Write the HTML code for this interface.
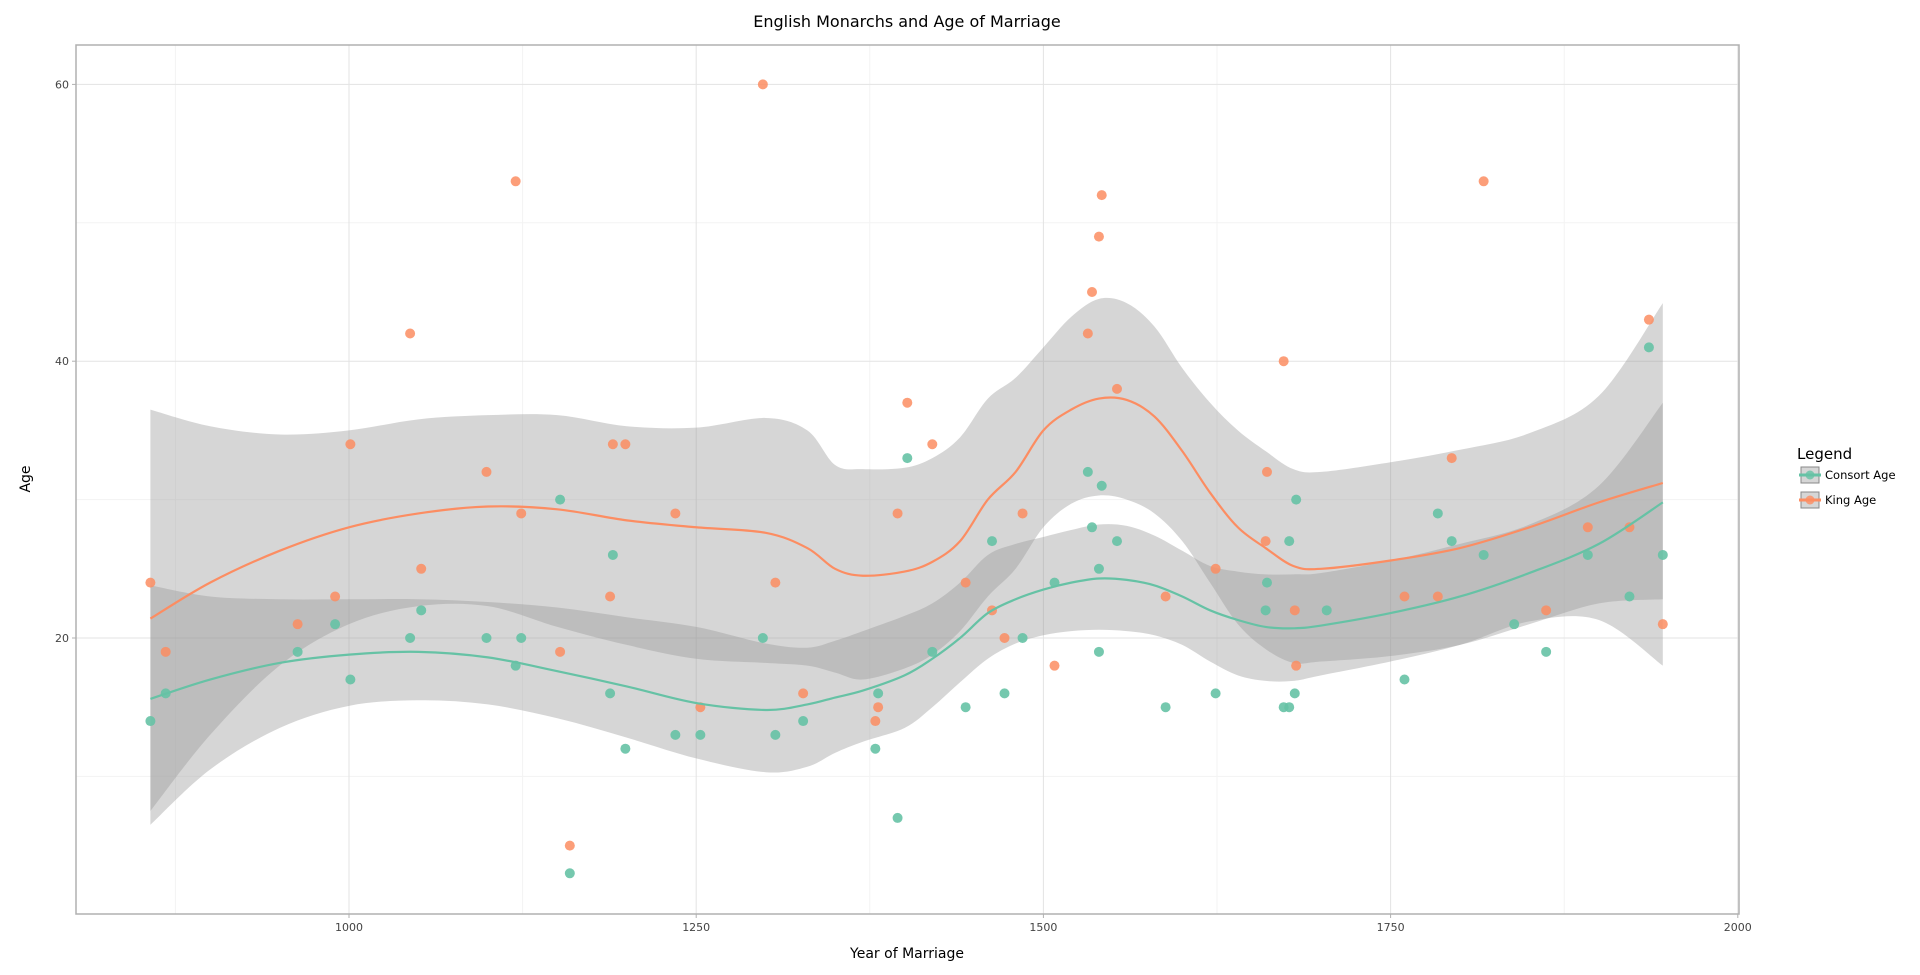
<!DOCTYPE html>
<html><head><meta charset="utf-8"><style>
body{margin:0;background:#fff;font-family:"Liberation Sans","DejaVu Sans",sans-serif}
svg{display:block}
</style></head><body>
<svg id="chart" width="1920" height="975" xmlns="http://www.w3.org/2000/svg" font-family="DejaVu Sans, Liberation Sans, sans-serif"></svg>
<script>
const kingYears=[857,868,963,990,1001,1044,1052,1099,1120,1124,1152,1159,1188,1190,1199,1235,1253,1298,1307,1327,1379,1381,1395,1402,1420,1444,1463,1472,1485,1508,1532,1535,1540,1542,1553,1588,1624,1660,1661,1673,1681,1682,1760,1784,1794,1817,1862,1892,1922,1936,1946];
const kingAges=[24,19,21,23,34,42,25,32,53,29,19,5,23,34,34,29,15,60,24,16,14,15,29,37,34,24,22,20,29,18,42,45,49,52,38,23,25,27,32,40,22,18,23,23,33,53,22,28,28,43,21];
const consortYears=[857,868,963,990,1001,1044,1052,1099,1120,1124,1152,1159,1188,1190,1199,1235,1253,1298,1307,1327,1379,1381,1395,1402,1420,1444,1463,1472,1485,1508,1532,1535,1540,1540,1542,1553,1588,1624,1660,1661,1673,1677,1677,1681,1682,1704,1760,1784,1794,1817,1839,1862,1892,1922,1936,1946];
const consortAges=[14,16,19,21,17,20,22,20,18,20,30,3,16,26,12,13,13,20,13,14,12,16,7,33,19,15,27,16,20,24,32,28,25,19,31,27,15,16,22,24,15,15,27,16,30,22,17,29,27,26,21,19,26,23,41,26];
const smoothYears=[857,900,950,1000,1050,1100,1150,1200,1250,1300,1330,1350,1370,1400,1420,1440,1460,1480,1500,1520,1540,1560,1580,1600,1620,1640,1660,1680,1700,1750,1800,1850,1900,1946];
const kingFit=[21.4,24,26.3,28,29,29.5,29.3,28.5,28,27.6,26.5,25,24.5,24.8,25.5,27,30,32,35,36.5,37.3,37.2,36,33.5,30.5,28,26.5,25.2,25,25.6,26.5,28,29.8,31.2];
const kingHi=[36.5,35.3,34.7,35,35.8,36.1,36.1,35.3,35.2,35.9,35,32.5,32.2,32.3,33,34.5,37.3,38.8,41,43.2,44.5,44.2,42.5,39.5,37,35,33.5,32.2,32,32.7,33.6,34.8,37.5,44.2];
const kingLo=[7.5,13,18,21,22.3,22.3,20.8,19.5,18.5,18.2,18,17.5,17,17.8,18.8,20.5,23,25,28,29.7,30.3,30,29,27,24,21,19.2,18.2,18.3,18.7,19.5,21,22.5,22.8];
const consFit=[15.6,17,18.2,18.8,19,18.6,17.6,16.5,15.3,14.8,15.2,15.7,16.2,17.3,18.5,20,21.8,22.8,23.5,24,24.3,24.2,23.8,23,22,21.3,20.8,20.7,20.9,21.8,23,24.7,26.8,29.8];
const consHi=[23.8,23,22.8,22.8,22.8,22.6,22.2,21.5,20.8,19.6,19.3,19.8,20.5,21.6,22.5,24,26,26.8,27.3,27.8,28.2,28.1,27.4,26.3,25.2,24.8,24.6,24.6,24.7,25.6,26.8,28.2,31,37];
const consLo=[6.5,10.5,13.5,15.1,15.5,15.2,14.2,12.8,11.3,10.3,10.7,11.7,12.5,13.5,15,16.8,18.5,19.6,20.2,20.5,20.6,20.5,20.2,19.5,18.3,17.3,16.9,16.9,17.3,18.3,19.5,21.2,21.3,18];
const xTicks=[1000,1250,1500,1750,2000];
const xMinor=[875,1125,1375,1625,1875];
const yTicks=[20,40,60];
const yMinor=[10,30,50];

const NS="http://www.w3.org/2000/svg";
const svg=document.getElementById('chart');
const L=76,T=45,R=1739,B=914;
const X=y=>349+(y-1000)*1.3888;
const Y=a=>638-(a-20)*13.84;
function el(tag,attrs,parent){const e=document.createElementNS(NS,tag);for(const k in attrs)e.setAttribute(k,attrs[k]);(parent||svg).appendChild(e);return e;}
function txt(s,attrs){const e=el('text',attrs);e.textContent=s;return e;}

xMinor.forEach(v=>{const e=el('line',{x1:X(v),x2:X(v),y1:T,y2:B,stroke:'#f3f3f3','stroke-width':1});

});
yMinor.forEach(v=>{const e=el('line',{x1:L,x2:R,y1:Y(v),y2:Y(v),stroke:'#f3f3f3','stroke-width':1});

});
xTicks.forEach(v=>{const e=el('line',{x1:X(v),x2:X(v),y1:T,y2:B,stroke:'#e3e3e3','stroke-width':1});


const t=el('line',{x1:X(v),x2:X(v),y1:B,y2:B+4,stroke:'#b0b0b0'});


const l=txt(v,{x:X(v),y:B+17,'text-anchor':'middle','font-size':11,fill:'#444'});

});
yTicks.forEach(v=>{const e=el('line',{x1:L,x2:R,y1:Y(v),y2:Y(v),stroke:'#e3e3e3','stroke-width':1});


const t=el('line',{x1:L-4,x2:L,y1:Y(v),y2:Y(v),stroke:'#b0b0b0'});


const l=txt(v,{x:L-7,y:Y(v)+4,'text-anchor':'end','font-size':11,fill:'#444'});

});

function smoothPath(xs,ys){
  const p=xs.map((x,i)=>[X(x),Y(ys[i])]);
  let d='M'+p[0][0]+','+p[0][1];
  for(let i=0;i<p.length-1;i++){
    const p0=p[Math.max(0,i-1)],p1=p[i],p2=p[i+1],p3=p[Math.min(p.length-1,i+2)];
    const c1=[p1[0]+(p2[0]-p0[0])/6,p1[1]+(p2[1]-p0[1])/6];
    const c2=[p2[0]-(p3[0]-p1[0])/6,p2[1]-(p3[1]-p1[1])/6];
    d+=' C'+c1[0]+','+c1[1]+' '+c2[0]+','+c2[1]+' '+p2[0]+','+p2[1];
  }
  return d;
}
function band(lo,hi,name){
  const up=smoothPath(smoothYears,hi);
  const rx=smoothYears.slice().reverse(),rl=lo.slice().reverse();
  const dn=smoothPath(rx,rl).replace(/^M/,'L');
  const e=el('path',{d:up+' '+dn+' Z',fill:'#999999','fill-opacity':0.4,stroke:'none'});
  
  
}
band(consLo,consHi,'consort-confidence-band');
band(kingLo,kingHi,'king-confidence-band');

consortYears.forEach((yr,i)=>{const c=el('circle',{cx:X(yr),cy:Y(consortAges[i]),r:5,fill:'#66c2a5','fill-opacity':0.9});

});
kingYears.forEach((yr,i)=>{const c=el('circle',{cx:X(yr),cy:Y(kingAges[i]),r:5,fill:'#fc8d62','fill-opacity':0.85});

});

const lc=el('path',{d:smoothPath(smoothYears,consFit),fill:'none',stroke:'#66c2a5','stroke-width':2.2});


const lk=el('path',{d:smoothPath(smoothYears,kingFit),fill:'none',stroke:'#fc8d62','stroke-width':2.2});



const fr=el('rect',{x:L,y:T,width:R-L,height:B-T,fill:'none',stroke:'#b0b0b0','stroke-width':1.5});



const tt=txt('English Monarchs and Age of Marriage',{x:907,y:27,'text-anchor':'middle','font-size':16,fill:'#000'});


const xl=txt('Year of Marriage',{x:907,y:958,'text-anchor':'middle','font-size':14,fill:'#000'});


const yl=txt('Age',{x:0,y:0,'text-anchor':'middle','font-size':14,fill:'#000',transform:'translate(30,479) rotate(-90)'});



const lt=txt('Legend',{x:1797,y:459,'font-size':15,fill:'#000'});


[['Consort Age','#66c2a5',475],['King Age','#fc8d62',500]].forEach(([n,c,y])=>{
  const g=el('g',{});
  
  
  el('rect',{x:1801,y:y-8,width:18,height:16,fill:'#d6d6d6',stroke:'#888','stroke-width':1},g);
  el('line',{x1:1799,x2:1821,y1:y,y2:y,stroke:c,'stroke-width':3},g);
  el('circle',{cx:1810,cy:y,r:4.5,fill:c,'fill-opacity':0.8},g);
  const t=el('text',{x:1825,y:y+4,'font-size':11.5,fill:'#000'},g);t.textContent=n;
});
</script>
</body></html>
